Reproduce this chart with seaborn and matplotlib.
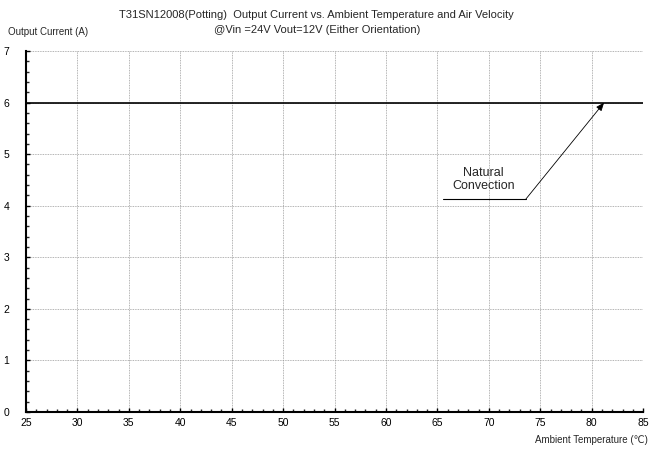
import matplotlib
matplotlib.use("Agg")
import matplotlib.pyplot as plt
from matplotlib.ticker import MultipleLocator
import pandas as pd
import seaborn as sns

# Data
temperature = [25, 85]
current_natural = [6, 6]
x_ticks = list(range(25, 90, 5))
y_ticks = list(range(0, 8))

sns.set_style("white")
plt.rcParams["font.family"] = ["Liberation Sans", "DejaVu Sans"]

df = pd.DataFrame({"temp": temperature, "current": current_natural})

fig = plt.figure(figsize=(6.51, 4.5), dpi=100)
ax = fig.add_axes([0.040, 0.0844, 0.948, 0.8023])

sns.lineplot(data=df, x="temp", y="current", color="black", linewidth=1.2, ax=ax)

ax.set_xlim(25, 85)
ax.set_ylim(0, 7)
ax.set_xticks(x_ticks)
ax.set_yticks(y_ticks)
ax.xaxis.set_minor_locator(MultipleLocator(1))
ax.yaxis.set_minor_locator(MultipleLocator(0.2))
ax.tick_params(axis="both", which="major", direction="in", length=3, width=1,
               labelsize=7.5, colors="black", pad=4)
ax.tick_params(axis="both", which="minor", direction="in", length=2, width=1)
ax.tick_params(axis="y", which="both", left=True)
ax.tick_params(axis="x", which="both", bottom=True)
ax.tick_params(axis="y", pad=12)

ax.grid(True, which="major", color="#9a9a9a", linestyle=(0, (1, 1)), linewidth=0.6)
for s in ["top", "right"]:
    ax.spines[s].set_visible(False)
for s in ["left", "bottom"]:
    ax.spines[s].set_color("black")
    ax.spines[s].set_linewidth(1.5)
ax.set_xlabel("")
ax.set_ylabel("")

# annotation: label with underline and arrow to the curve
ax.text(69.5, 4.5, "Natural\nConvection", ha="center", va="center", fontsize=9,
        linespacing=1.1)
ax.plot([65.5, 73.6], [4.13, 4.13], color="black", linewidth=0.8)
ax.annotate("", xy=(81.2, 6.0), xytext=(73.6, 4.13),
            arrowprops=dict(arrowstyle="-|>,head_length=0.5,head_width=0.2",
                            color="black", lw=0.6, shrinkA=0, shrinkB=0))

fig.text(0.486, 0.967, "T31SN12008(Potting)  Output Current vs. Ambient Temperature and Air Velocity",
         ha="center", va="center", fontsize=8)
fig.text(0.487, 0.933, "@Vin =24V Vout=12V (Either Orientation)",
         ha="center", va="center", fontsize=8)
fig.text(0.012, 0.929, "Output Current (A)", ha="left", va="center", fontsize=7)
fig.text(0.995, 0.022, "Ambient Temperature (\u2103)", ha="right", va="center", fontsize=7)

fig.savefig("out.png", dpi=100)
